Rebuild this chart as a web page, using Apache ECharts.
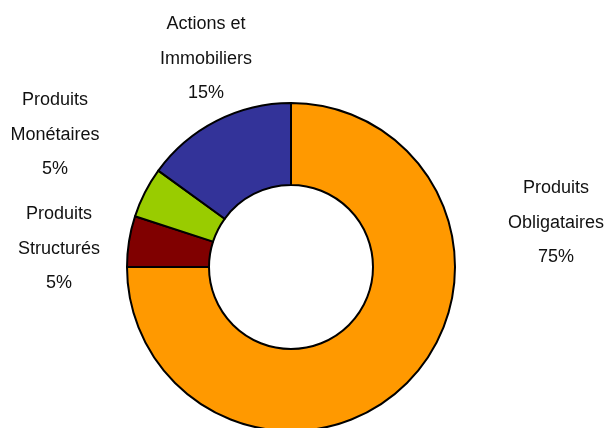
<!DOCTYPE html>
<html>
<head>
<meta charset="utf-8">
<script src="https://cdn.jsdelivr.net/npm/echarts@6/dist/echarts.min.js"></script>
<style>
    html, body { margin: 0; padding: 0; background: #fff; }
    #chart { width: 605px; height: 428px; }
</style>
</head>
<body>
<div id="chart"></div>
<script>
// données du graphique
const categories = ['Produits\nObligataires', 'Produits\nStructurés', 'Produits\nMonétaires', 'Actions et\nImmobiliers'];
const values = [75, 5, 5, 15];
const colors = ['#FF9900', '#800000', '#99CC00', '#333399'];

// position des étiquettes (centre du bloc de texte)
const labelPos = [[556, 223], [59, 249], [55, 135], [206, 59]];

const chart = echarts.init(document.getElementById('chart'));

chart.setOption({
    animation: false,
    series: [{
        type: 'pie',
        center: [291, 267],
        radius: [82, 164],
        startAngle: 90,
        clockwise: true,
        silent: true,
        data: categories.map((name, i) => ({
            name: name,
            value: values[i],
            itemStyle: { color: colors[i] }
        })),
        itemStyle: {
            borderColor: '#000',
            borderWidth: 2
        },
        label: {
            show: true,
            position: 'outside',
            formatter: p => p.name + '\n' + p.value + '%',
            fontFamily: 'Liberation Sans, Arial, sans-serif',
            fontSize: 18,
            lineHeight: 34.5,
            color: '#111',
            align: 'center',
            overflow: 'none'
        },
        labelLine: { show: false },
        labelLayout: params => ({
            x: labelPos[params.dataIndex][0],
            y: labelPos[params.dataIndex][1],
            align: 'center',
            verticalAlign: 'middle'
        })
    }]
});
</script>
</body>
</html>
